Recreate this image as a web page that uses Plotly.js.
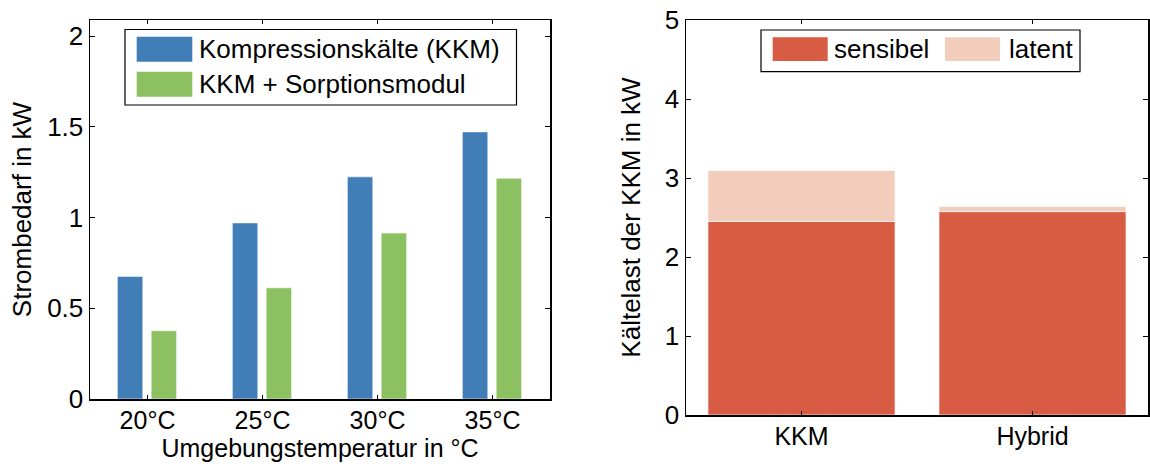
<!DOCTYPE html>
<html>
<head>
<meta charset="utf-8">
<script src="https://cdn.plot.ly/plotly-3.0.1.min.js"></script>
<style>
  html, body { margin: 0; padding: 0; background: #ffffff; }
  #chart { width: 1150px; height: 464px; }
</style>
</head>
<body>
<div id="chart"></div>
<script>
// ---- Data: left chart (Strombedarf) ----
const temperatures = ['20°C', '25°C', '30°C', '35°C'];
const seriesKKMName = 'Kompressionskälte (KKM)';
const seriesKKM = [0.676, 0.971, 1.225, 1.473];
const seriesSorpName = 'KKM + Sorptionsmodul';
const seriesSorp = [0.376, 0.613, 0.915, 1.217];
const leftYTicks = [0, 0.5, 1, 1.5, 2];

// ---- Data: right chart (Kältelast) ----
const systems = ['KKM', 'Hybrid'];
const sensibelName = 'sensibel';
const sensibel = [2.45, 2.575];
const latentName = 'latent';
const latent = [0.645, 0.065];
const rightYTicks = [0, 1, 2, 3, 4, 5];

// ---- Style ----
const W = 1150, H = 464;
const FONT = '"Liberation Sans", Arial, Helvetica, sans-serif';
const FS = 26;
const FSX = 25;
const cBlue = '#417EB7', cGreen = '#8DC060', cRed = '#D75C43', cLight = '#F2CDBB';
const X = px => px / W;
const Y = py => 1 - py / H;

const traces = [
  { type: 'bar', x: temperatures, y: seriesKKM, name: seriesKKMName, xaxis: 'x', yaxis: 'y',
    width: 0.221, offset: -0.262, marker: { color: cBlue, line: { color: 'rgba(255,255,255,0.55)', width: 1 } }, showlegend: false },
  { type: 'bar', x: temperatures, y: seriesSorp, name: seriesSorpName, xaxis: 'x', yaxis: 'y',
    width: 0.221, offset: 0.032, marker: { color: cGreen, line: { color: 'rgba(255,255,255,0.55)', width: 1 } }, showlegend: false },
  { type: 'bar', x: systems, y: sensibel, name: sensibelName, xaxis: 'x2', yaxis: 'y2',
    width: 0.81, offset: -0.405, marker: { color: cRed, line: { color: 'rgba(255,255,255,0.7)', width: 1 } }, showlegend: false },
  { type: 'bar', x: systems, y: latent, base: sensibel, name: latentName, xaxis: 'x2', yaxis: 'y2',
    width: 0.81, offset: -0.405, marker: { color: cLight, line: { color: 'rgba(255,255,255,0.7)', width: 1 } }, showlegend: false }
];

const axisCommon = {
  showline: true, linecolor: '#000', linewidth: 1.5, mirror: 'ticks',
  ticks: 'inside', tickcolor: '#000', tickwidth: 1, showgrid: false, zeroline: false,
  tickfont: { family: FONT, size: FS, color: '#000' }
};

// Custom legends (large swatches like the original)
const shapes = [];
const annotations = [];
function legendBox(x0, y0, x1, y1) {
  shapes.push({ type: 'rect', xref: 'paper', yref: 'paper', x0: X(x0), x1: X(x1), y0: Y(y1), y1: Y(y0),
    line: { color: '#000', width: 1.2 }, fillcolor: '#fff', layer: 'above' });
}
function legendItem(sx0, sx1, sy0, sy1, color, tx, text) {
  shapes.push({ type: 'rect', xref: 'paper', yref: 'paper', x0: X(sx0), x1: X(sx1), y0: Y(sy1), y1: Y(sy0),
    line: { width: 0 }, fillcolor: color, layer: 'above' });
  annotations.push({ xref: 'paper', yref: 'paper', x: X(tx), y: Y((sy0 + sy1) / 2), xanchor: 'left', yanchor: 'middle',
    text: text, showarrow: false, font: { family: FONT, size: FS, color: '#000' } });
}
legendBox(125, 29.5, 516.5, 105);
legendItem(136.7, 192.3, 36.7, 61.7, cBlue, 197, seriesKKMName);
legendItem(136.7, 192.3, 71.7, 96.7, cGreen, 197, seriesSorpName);
legendBox(761, 30, 1080, 71.7);
legendItem(772.7, 827.7, 37.3, 61, cRed, 832, sensibelName);
legendItem(945, 1000, 37.3, 61, cLight, 1007, latentName);

const layout = {
  width: W, height: H,
  margin: { l: 0, r: 0, t: 0, b: 0 },
  paper_bgcolor: '#fff', plot_bgcolor: '#fff',
  barmode: 'overlay',
  showlegend: false,
  font: { family: FONT, size: FS, color: '#000' },
  xaxis: Object.assign({}, axisCommon, {
    domain: [X(90), X(550)], anchor: 'y', type: 'category', range: [-0.5, 3.5], ticklen: 4,
    tickfont: { family: FONT, size: FSX, color: '#000' }, ticklabelstandoff: -2,
    title: { text: 'Umgebungstemperatur in °C', font: { family: FONT, size: FSX, color: '#000' }, standoff: 7 }
  }),
  yaxis: Object.assign({}, axisCommon, {
    domain: [Y(399), Y(20)], anchor: 'x', range: [0, 2.09], tickvals: leftYTicks, ticklen: 5,
    title: { text: 'Strombedarf in kW', font: { family: FONT, size: FS, color: '#000' }, standoff: 8 }
  }),
  xaxis2: Object.assign({}, axisCommon, {
    domain: [X(686), X(1148)], anchor: 'y2', type: 'category', range: [-0.5, 1.5], ticklen: 4,
    tickfont: { family: FONT, size: FSX, color: '#000' }, ticklabelstandoff: -2
  }),
  yaxis2: Object.assign({}, axisCommon, {
    domain: [Y(415), Y(20)], anchor: 'x2', range: [0, 5], tickvals: rightYTicks, ticklen: 5,
    title: { text: 'Kältelast der KKM in kW', font: { family: FONT, size: FS, color: '#000' }, standoff: 16 }
  }),
  shapes: shapes,
  annotations: annotations
};

Plotly.newPlot('chart', traces, layout, { staticPlot: true, displayModeBar: false });
</script>
</body>
</html>
